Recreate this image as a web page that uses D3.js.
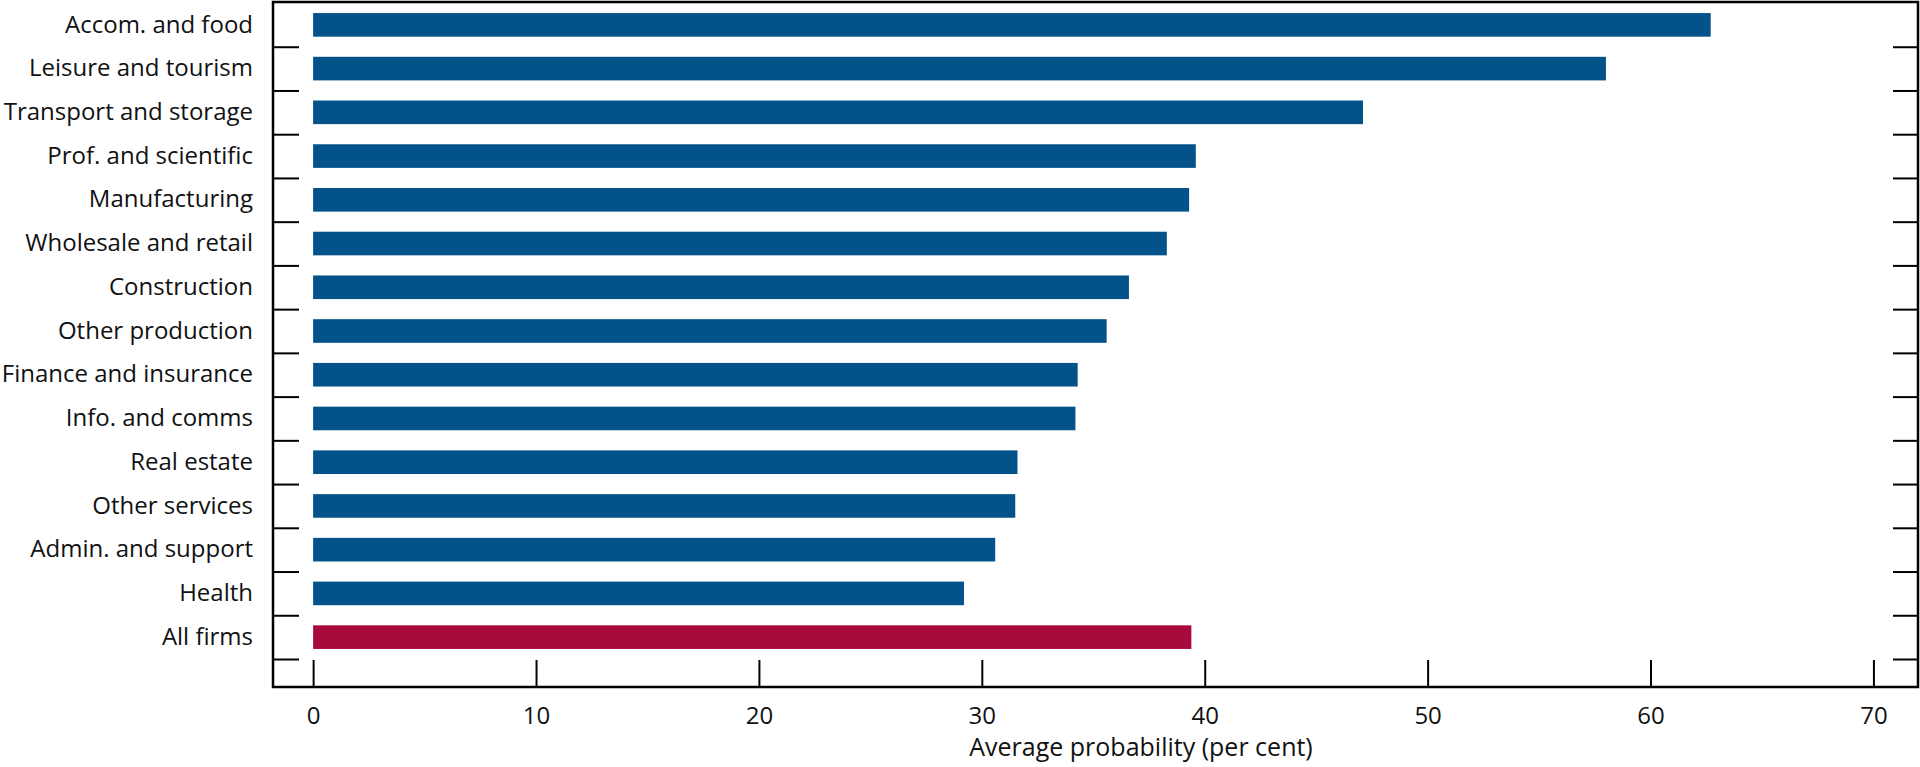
<!DOCTYPE html>
<html>
<head>
<meta charset="utf-8">
<script src="https://cdn.jsdelivr.net/npm/d3@7"></script>
<style>
	body { margin: 0; background: #fff; }
	svg { display: block; font-family: "Open Sans", sans-serif; }
	.axis path { display: none; }
	.axis line { stroke: #000; stroke-width: 2; }
	.axis text { font-size: 24px; fill: #111; font-family: "Open Sans", sans-serif; }
</style>
</head>
<body>
<div class="chart"></div>
<script>
const categories = ['Accom. and food', 'Leisure and tourism', 'Transport and storage', 'Prof. and scientific',
	'Manufacturing', 'Wholesale and retail', 'Construction', 'Other production', 'Finance and insurance',
	'Info. and comms', 'Real estate', 'Other services', 'Admin. and support', 'Health', 'All firms'];
const values = [62.7, 58.0, 47.1, 39.6, 39.3, 38.3, 36.6, 35.6, 34.3, 34.2, 31.6, 31.5, 30.6, 29.2, 39.4];
const xTicks = [0, 10, 20, 30, 40, 50, 60, 70];
const xTitle = 'Average probability (per cent)';

const width = 1920;
const height = 767;
const frame = {left: 273, right: 1918, top: 2, bottom: 687};

const data = categories.map((c, i) => ({cat: c, value: values[i]}));

const xScale = d3.scaleLinear()
	.domain([-1.8, 72])
	.range([frame.left, frame.right]);

const yScale = d3.scaleBand()
	.domain(categories)
	.range([3, 659])
	.paddingInner(0.46)
	.paddingOuter(0.23);

// band boundaries for the little tick marks
const edgeScale = d3.scaleLinear()
	.domain([0, categories.length])
	.range([3, 659]);

const svg = d3.select('.chart').append('svg')
	.attr('width', width)
	.attr('height', height);

svg.selectAll('.bar')
	.data(data)
	.enter()
	.append('rect')
	.attr('class', 'bar')
	.attr('x', xScale(0))
	.attr('y', d => yScale(d.cat))
	.attr('width', d => xScale(d.value) - xScale(0))
	.attr('height', yScale.bandwidth())
	.attr('fill', d => d.cat === 'All firms' ? '#a90a3c' : '#03528a');

// category labels
svg.append('g')
	.attr('class', 'axis y-axis')
	.attr('transform', `translate(${frame.left - 20},0)`)
	.call(d3.axisLeft(yScale).tickSize(0).tickPadding(0));

// inward ticks on left and right frame
const edges = d3.range(1, categories.length + 1);
svg.append('g')
	.attr('class', 'axis')
	.attr('transform', `translate(${frame.left},0)`)
	.call(d3.axisRight(edgeScale).tickValues(edges).tickSize(26).tickFormat(''));

svg.append('g')
	.attr('class', 'axis')
	.attr('transform', `translate(${frame.right},0)`)
	.call(d3.axisLeft(edgeScale).tickValues(edges).tickSize(25).tickFormat(''));

// x axis, ticks pointing up into the plot
svg.append('g')
	.attr('class', 'axis x-axis')
	.attr('transform', `translate(0,${frame.bottom})`)
	.call(d3.axisBottom(xScale).tickValues(xTicks).tickSizeInner(-27).tickSizeOuter(0).tickPadding(20));

// frame
svg.append('rect')
	.attr('x', frame.left)
	.attr('y', frame.top)
	.attr('width', frame.right - frame.left)
	.attr('height', frame.bottom - frame.top)
	.attr('fill', 'none')
	.attr('stroke', '#000')
	.attr('stroke-width', 2.5);

svg.append('text')
	.attr('x', 1141)
	.attr('y', 756)
	.attr('text-anchor', 'middle')
	.style('font-size', '25px')
	.style('fill', '#111')
	.text(xTitle);
</script>
</body>
</html>
